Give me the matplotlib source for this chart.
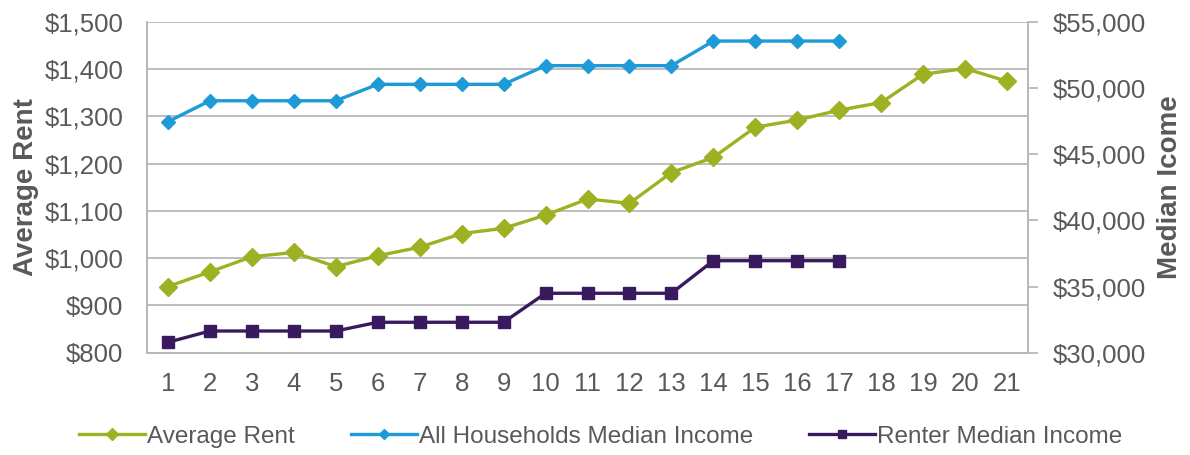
import matplotlib.pyplot as plt
import matplotlib.ticker as mticker
import numpy as np

plt.rcParams['font.family'] = ['Liberation Sans', 'DejaVu Sans']

periods = list(range(1, 22))
avg_rent = [940, 971, 1003, 1012, 982, 1005, 1023, 1052, 1063, 1091, 1125,
            1116, 1181, 1213, 1277, 1292, 1313, 1329, 1389, 1401, 1374]
all_hh_income = [47450, 49030, 49030, 49030, 49030, 50270, 50270, 50270, 50270,
                 51680, 51680, 51680, 51680, 53540, 53540, 53540, 53540]
renter_income = [30790, 31640, 31640, 31640, 31640, 32300, 32300, 32300, 32300,
                 34490, 34490, 34490, 34490, 36950, 36950, 36950, 36950]

GREEN = '#9DB122'
BLUE = '#1E9BD7'
PURPLE = '#3A1A5E'
TEXT = '#595959'
GRID = '#B8B8B8'

fig = plt.figure(figsize=(11.9, 4.55), dpi=100)
ax = fig.add_axes([0.1235, 0.2248, 0.7404, 0.7275])
ax2 = ax.twinx()

l1, = ax.plot(periods, avg_rent, color=GREEN, lw=2.4, marker='D', ms=9, zorder=3)
n = len(all_hh_income)
l2, = ax2.plot(periods[:n], all_hh_income, color=BLUE, lw=2.4, marker='D', ms=7)
l3, = ax2.plot(periods[:n], renter_income, color=PURPLE, lw=2.4, marker='s', ms=9)

ax.set_xlim(0.5, 21.5)
ax.set_ylim(800, 1500)
ax.set_yticks(np.arange(800, 1501, 100))
ax.yaxis.set_major_formatter(mticker.FuncFormatter(lambda v, p: '${:,.0f}'.format(v)))
ax2.set_ylim(30000, 55000)
ax2.set_yticks(np.arange(30000, 55001, 5000))
ax2.yaxis.set_major_formatter(mticker.FuncFormatter(lambda v, p: '${:,.0f}'.format(v)))
ax.set_xticks(periods)

ax.grid(axis='y', color=GRID, lw=1.3)
ax.set_axisbelow(True)
for a in (ax, ax2):
    for s in a.spines.values():
        s.set_color(GRID)
        s.set_linewidth(1.3)
    a.spines['top'].set_visible(False)
ax.tick_params(axis='both', colors=TEXT, labelsize=18.5, length=0)
ax.tick_params(axis='y', pad=17)
ax.tick_params(axis='x', pad=14)
ax2.tick_params(axis='y', colors=TEXT, labelsize=18.5, length=7, width=1.3,
                direction='out', pad=11)
ax2.tick_params(axis='y', color=GRID)

ax.set_ylabel('Average Rent', fontsize=20, fontweight='bold', color=TEXT, labelpad=4)
ax2.set_ylabel('Median Icome', fontsize=20, fontweight='bold', color=TEXT, labelpad=8)

fig.legend([l1, l2, l3], ['Average Rent', 'All Households Median Income', 'Renter Median Income'],
           loc='center', bbox_to_anchor=(0.505, 0.04), ncol=3, frameon=False,
           fontsize=17.5, handlelength=2.7, handletextpad=0.1, columnspacing=2.3,
           markerscale=0.7, labelcolor=TEXT)

fig.savefig('out.png', dpi=100)
